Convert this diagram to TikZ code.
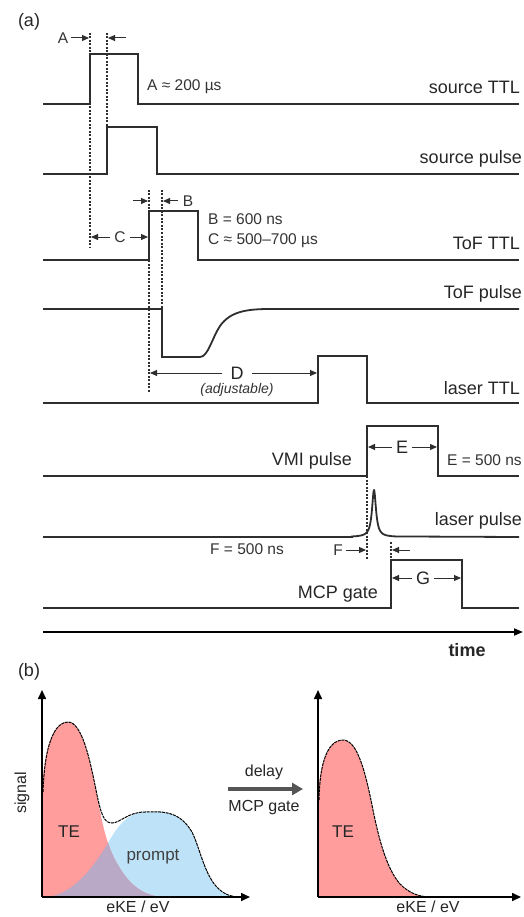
\documentclass[tikz,border=0pt]{standalone}
\usepackage{fontspec}
\setmainfont{Liberation Sans}
\usetikzlibrary{arrows.meta}
\definecolor{trace}{HTML}{2E2E2E}
\definecolor{tered}{HTML}{FF9C9C}
\definecolor{prblue}{HTML}{BEE3F8}
\definecolor{ovl}{HTML}{B9A8C6}
\definecolor{garrow}{HTML}{555555}
\begin{document}
\begin{tikzpicture}[x=1pt,y=-1pt,
  wave/.style={draw=trace,line width=1.8pt,line join=miter},
  guide/.style={draw=trace,line width=1.1pt,dash pattern=on 2pt off 1.5pt},
  dim/.style={draw=trace,line width=1pt,-{Triangle[length=7pt,width=6pt]}},
  lbl/.style={font=\fontsize{18}{20}\selectfont,inner sep=0pt,text=black!85},
  ann/.style={font=\fontsize{15.5}{18}\selectfont,inner sep=0pt,text=black!80},
  axisarrow/.style={draw=black,line width=1.6pt,-{Triangle[length=9pt,width=8pt]}},
  outline/.style={draw=black,line width=1pt,dash pattern=on 3pt off 0.8pt}
]
\useasboundingbox (0,0) rectangle (523,917);

% ---------- panel (a) ----------
\node[lbl,anchor=center] (pa) at (29,22) {(a)};

% waveforms
\draw[wave] (43,104) -- (90,104) -- (90,54) -- (138,54) -- (138,104) -- (519,104);
\draw[wave] (43,174) -- (107,174) -- (107,127) -- (157,127) -- (157,174) -- (519,174);
\draw[wave] (43,260) -- (149,260) -- (149,211) -- (198,211) -- (198,260) -- (519,260);
\draw[wave] (43,309) -- (162,309) -- (162,357) -- (200,357)
   .. controls (208,357) and (212,338) .. (220,326)
   .. controls (230,312) and (245,309) .. (270,309) -- (519,309);
\draw[wave] (43,403) -- (318,403) -- (318,356) -- (367,356) -- (367,403) -- (519,403);
\draw[wave] (43,476) -- (367,476) -- (367,426) -- (438,426) -- (438,476) -- (519,476);
\draw[wave] (43,537) -- (352,537)
   -- plot[domain=352:396,samples=160] (\x,{537-47/(1+((\x-374)/2.4)^2)})
   -- (519,537);
\draw[wave] (43,608) -- (391,608) -- (391,560) -- (462,560) -- (462,608) -- (519,608);

% time axis
\draw[line width=1.8pt,draw=black,-{Triangle[length=9pt,width=7pt]}] (43,632) -- (523,632);
\node[lbl,font=\fontsize{18}{20}\selectfont\bfseries] (time) at (467,650) {time};

% guide lines
\draw[guide] (90,33) -- (90,247);
\draw[guide] (107,33) -- (107,127);
\draw[guide] (149,190) -- (149,392);
\draw[guide] (162,190) -- (162,309);
\draw[guide] (367,476) -- (367,560);
\draw[guide] (391,542) -- (391,560);

% labels
\node[lbl,anchor=base east] (l1) at (520,94) {source TTL};
\node[lbl,anchor=base east] (l2) at (522,164) {source pulse};
\node[lbl,anchor=base east] (l3) at (520,249) {ToF TTL};
\node[lbl,anchor=base east] (l4) at (522,298) {ToF pulse};
\node[lbl,anchor=base east] (l5) at (520,394) {laser TTL};
\node[lbl,anchor=base east] (l6) at (352,465) {VMI pulse};
\node[lbl,anchor=base east] (l7) at (522,525) {laser pulse};
\node[lbl,anchor=base east] (l8) at (378,598) {MCP gate};

% A
\node[ann] (A) at (63,38) {A};
\coordinate (a1) at (89,38);
\coordinate (a2) at (108,38);
\coordinate (a3) at (126,38);
\draw[dim] (A.east) ++(3,0) -- (a1);
\draw[dim] (a3) -- (a2);
\node[ann,anchor=west] (Aval) at (147,87) {A ≈ 200 µs};

% B
\coordinate (b0) at (133,201);
\coordinate (b1) at (148,201);
\coordinate (b2) at (163,201);
\coordinate (b3) at (178,201);
\draw[dim] (b0) -- (b1);
\draw[dim] (b3) -- (b2);
\node[ann] (B) at (188,201) {B};
\node[ann,anchor=west] (Bval) at (208,219) {B = 600 ns};
\node[ann,anchor=west] (Cval) at (208,241) {C ≈ 500–700 µs};

% C
\node[ann] (C) at (120,237) {C};
\coordinate (c1) at (91,237);
\coordinate (c2) at (148,237);
\draw[dim] (C.west) ++(-4,0) -- (c1);
\draw[dim] (C.east) ++(4,0) -- (c2);

% D
\node[lbl] (D) at (237,373) {D};
\coordinate (d1) at (150,373);
\coordinate (d2) at (317,373);
\draw[dim] (D.west) ++(-8,0) -- (d1);
\draw[dim] (D.east) ++(8,0) -- (d2);
\node[ann,font=\fontsize{14}{16}\selectfont\itshape] (Dadj) at (237,390) {(adjustable)};

% E
\node[lbl] (E) at (402,447) {E};
\coordinate (e1) at (368,447);
\coordinate (e2) at (437,447);
\draw[dim] (E.west) ++(-4,0) -- (e1);
\draw[dim] (E.east) ++(4,0) -- (e2);
\node[ann,anchor=west] (Eval) at (447,460) {E = 500 ns};

% F
\node[ann,anchor=west] (Fval) at (210,549) {F = 500 ns};
\node[ann] (F) at (338,550) {F};
\coordinate (f1) at (366,550);
\coordinate (f2) at (392,550);
\coordinate (f3) at (410,550);
\draw[dim] (F.east) ++(3,0) -- (f1);
\draw[dim] (f3) -- (f2);

% G
\node[lbl] (G) at (423,578) {G};
\coordinate (g1) at (392,578);
\coordinate (g2) at (461,578);
\draw[dim] (G.west) ++(-4,0) -- (g1);
\draw[dim] (G.east) ++(4,0) -- (g2);

% ---------- panel (b) ----------
\node[lbl,anchor=center] (pb) at (29,672) {(b)};

% left plot fills
\fill[prblue] (48,897) .. controls (75,893) and (95,865) .. (108,843)
   .. controls (118,825) and (128,813) .. (145,812)
   .. controls (165,811) and (180,812) .. (192,832)
   .. controls (200,848) and (205,878) .. (220,890)
   .. controls (226,895) and (232,897) .. (240,897) -- cycle;
\fill[tered] (42,795) .. controls (44,735) and (58,722) .. (68,722)
   .. controls (82,722) and (90,760) .. (97,795)
   .. controls (102,822) and (106,845) .. (118,865)
   .. controls (128,882) and (140,895) .. (162,897) -- (42,897) -- cycle;
\begin{scope}
\clip (42,795) .. controls (44,735) and (58,722) .. (68,722)
   .. controls (82,722) and (90,760) .. (97,795)
   .. controls (102,822) and (106,845) .. (118,865)
   .. controls (128,882) and (140,895) .. (162,897) -- (42,897) -- cycle;
\fill[ovl] (48,897) .. controls (75,893) and (95,865) .. (108,843)
   .. controls (118,825) and (128,813) .. (145,812)
   .. controls (165,811) and (180,812) .. (192,832)
   .. controls (200,848) and (205,878) .. (220,890)
   .. controls (226,895) and (232,897) .. (240,897) -- cycle;
\end{scope}
\draw[outline] (43,792) .. controls (45,735) and (58,722) .. (68,722)
   .. controls (82,722) and (90,760) .. (96,790)
   .. controls (101,815) and (104,823) .. (112,823)
   .. controls (120,823) and (128,812) .. (145,812)
   .. controls (165,811) and (180,812) .. (192,832)
   .. controls (200,848) and (205,878) .. (220,890)
   .. controls (226,895) and (232,897) .. (240,897);
\coordinate (lo) at (42,897);
\coordinate (ly) at (42,690);
\coordinate (lx) at (250,897);
\draw[axisarrow] (lo) -- (ly);
\draw[axisarrow] (lo) -- (lx);
\node[lbl,rotate=90,font=\fontsize{16}{18}\selectfont] (sig) at (22,793) {signal};
\node[lbl,font=\fontsize{16}{18}\selectfont] (ekl) at (138,907) {eKE / eV};
\node[lbl,font=\fontsize{17}{18}\selectfont] (te1) at (69,832) {TE};
\node[lbl,font=\fontsize{17}{18}\selectfont,text=black!75] (pr) at (153,857) {prompt};

% middle arrow
\coordinate (m1) at (228,789);
\coordinate (m2) at (303,789);
\draw[draw=garrow,line width=3.5pt,-{Triangle[length=11pt,width=12pt]}] (m1) -- (m2);
\node[lbl,font=\fontsize{16}{18}\selectfont] (dl) at (264,772) {delay};
\node[lbl,font=\fontsize{16}{18}\selectfont] (mg) at (264,808) {MCP gate};

% right plot
\fill[tered] (318,800) .. controls (320,750) and (333,740) .. (343,740)
   .. controls (358,740) and (366,775) .. (373,810)
   .. controls (380,845) and (388,870) .. (400,884)
   .. controls (410,894) and (420,897) .. (432,897) -- (318,897) -- cycle;
\draw[outline] (319,800) .. controls (320,750) and (333,740) .. (343,740)
   .. controls (358,740) and (366,775) .. (373,810)
   .. controls (380,845) and (388,870) .. (400,884)
   .. controls (410,894) and (420,897) .. (432,897);
\coordinate (ro) at (318,897);
\coordinate (ry) at (318,690);
\coordinate (rx) at (521,897);
\draw[axisarrow] (ro) -- (ry);
\draw[axisarrow] (ro) -- (rx);
\node[lbl,font=\fontsize{16}{18}\selectfont] (ekr) at (428,907) {eKE / eV};
\node[lbl,font=\fontsize{17}{18}\selectfont] (te2) at (343,832) {TE};
\end{tikzpicture}
\end{document}
